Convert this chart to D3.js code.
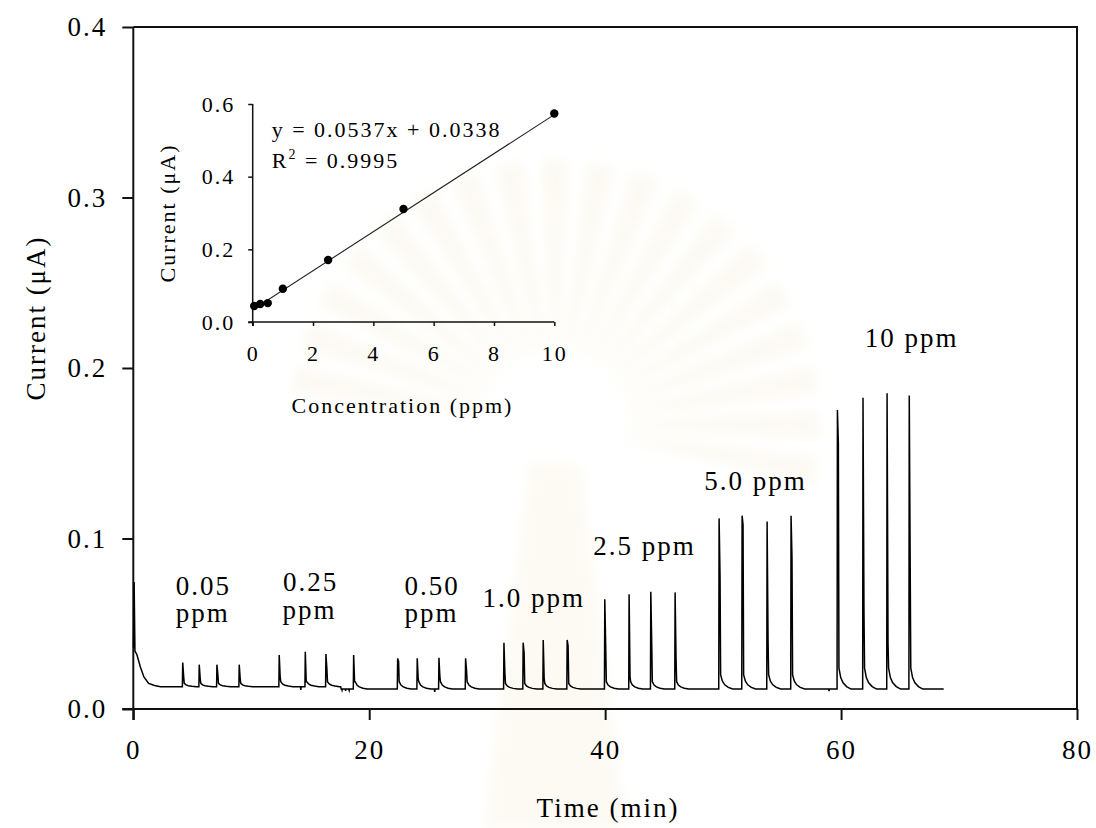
<!DOCTYPE html>
<html>
<head>
<meta charset="utf-8">
<script src="https://cdn.jsdelivr.net/npm/d3@7"></script>
<style>
  html, body { margin: 0; padding: 0; background: #fff; }
  svg { display: block; }
  text { font-family: "Liberation Serif", "Times New Roman", serif; fill: #000; }
</style>
</head>
<body>
<svg id="chart" width="1096" height="828"></svg>
<script>
// ---- Main trace: flow-injection amperometric response ----
const timeTicks = [0, 20, 40, 60, 80];
const currentTicks = [0, 0.1, 0.2, 0.3, 0.4];

// initial injection transient (min, µA)
const startTimes  = [0.02, 0.07, 0.14, 0.30, 0.60, 0.90, 1.30, 1.80, 2.30];
const startValues = [0.036, 0.0745, 0.034, 0.032, 0.0246, 0.0188, 0.0150, 0.0138, 0.0131];

// baseline level before / after the small drift step
const baselineStepTime = 17.6;
const baselineLevels = [0.0131, 0.0117];
const traceEnd = 68.7;

// injections: time of apex, apex current, shoulder on the falling edge, start of tail
const peakTimes = [
  4.19, 5.59, 7.09, 8.98,
  12.37, 14.58, 16.33, 18.68,
  22.41, 24.07, 25.91, 28.17,
  31.42, 33.05, 34.75, 36.78,
  39.97, 42.03, 43.87, 45.93,
  49.66, 51.61, 53.73, 55.76,
  59.69, 61.86, 63.90, 65.78
];
const peakApex = [
  0.0272, 0.0260, 0.0260, 0.0260,
  0.0317, 0.0336, 0.0323, 0.0317,
  0.0297, 0.0297, 0.0300, 0.0297,
  0.0389, 0.0389, 0.0405, 0.0405,
  0.0643, 0.0673, 0.0688, 0.0684,
  0.1118, 0.1134, 0.1099, 0.1134,
  0.1754, 0.1826, 0.1852, 0.1838
];
const peakShoulder = [
  0.0190, 0.0180, 0.0200, 0.0180,
  0.0190, 0.0160, 0.0237, 0.0160,
  0.0280, 0.0180, 0.0190, 0.0227,
  0.0213, 0.0330, 0.0180, 0.0370,
  0.0356, 0.0190, 0.0380, 0.0297,
  0.0776, 0.1080, 0.0405, 0.0884,
  0.1558, 0.0580, 0.0385, 0.0835
];
const peakTail = [
  0.0150, 0.0150, 0.0150, 0.0150,
  0.0160, 0.0160, 0.0160, 0.0160,
  0.0160, 0.0160, 0.0160, 0.0160,
  0.0150, 0.0150, 0.0150, 0.0150,
  0.0160, 0.0160, 0.0160, 0.0160,
  0.0200, 0.0200, 0.0200, 0.0200,
  0.0240, 0.0240, 0.0240, 0.0240
];

// short negative glitches on the baseline
const dipTimes  = [14.20, 17.70, 18.00, 18.30, 25.55, 58.98];
const dipValues = [0.0112, 0.0110, 0.0106, 0.0109, 0.0100, 0.0105];

// concentration labels above each group (one entry per text line)
const labelText  = ["0.05", "ppm", "0.25", "ppm", "0.50", "ppm", "1.0 ppm", "2.5 ppm", "5.0 ppm", "10 ppm"];
const labelTime  = [3.6, 3.6, 12.7, 12.65, 23.0, 23.0, 29.6, 39.0, 48.4, 62.0];
const labelValue = [0.0669, 0.0510, 0.0690, 0.0525, 0.0669, 0.0510, 0.0599, 0.0903, 0.1284, 0.2121];

// ---- Inset: calibration ----
const calConc    = [0.05, 0.25, 0.50, 1.0, 2.5, 5.0, 10.0];
const calCurrent = [0.044, 0.0495, 0.052, 0.0917, 0.1707, 0.311, 0.574];
const fitSlope = 0.0537, fitIntercept = 0.0338, fitR2 = 0.9995;
const concTicks = [0, 2, 4, 6, 8, 10];
const calTicks = [0, 0.2, 0.4, 0.6];

const svg = d3.select("#chart");

// ---- faint emblem in the background ----
const bg = svg.append("g").attr("class", "emblem");
const defs = svg.append("defs");
defs.append("filter").attr("id", "soft").append("feGaussianBlur").attr("stdDeviation", 6);
const cx = 555, cy = 425;
const rayAngles = d3.range(-170, 11, 10);
bg.selectAll("path.ray").data(rayAngles).join("path")
  .attr("class", "ray")
  .attr("d", a => {
    const r0 = 75, r1 = 265, w = 3.0;
    const p = (r, da) => {
      const t = (a + da) * Math.PI / 180;
      return [cx + r * Math.cos(t), cy + r * Math.sin(t)];
    };
    const pts = [p(r0, -w * 0.6), p(r1, -w), p(r1, w), p(r0, w * 0.6)];
    return "M" + pts.map(q => q.join(",")).join("L") + "Z";
  })
  .attr("fill", "#f0e8c6")
  .attr("opacity", 0.22)
  .attr("filter", "url(#soft)");
bg.append("path")
  .attr("d", `M${cx - 25},${cy + 40} L${cx + 25},${cy + 40} L${cx + 70},828 L${cx - 70},828 Z`)
  .attr("fill", "#efe4bd").attr("opacity", 0.18).attr("filter", "url(#soft)");

// ---- main scales ----
const x = d3.scaleLinear().domain([0, 80]).range([133.3, 1077]);
const y = d3.scaleLinear().domain([0, 0.4]).range([709, 27]);

const main = svg.append("g");

// frame: top and right borders
main.append("path")
  .attr("d", `M${x(0)},${y(0.4)}H${x(80)}V${y(0)}`)
  .attr("fill", "none").attr("stroke", "#111").attr("stroke-width", 2);

// axes
const yAxis = d3.axisLeft(y).tickValues(currentTicks).tickFormat(d3.format(".1f"))
  .tickSize(11).tickSizeOuter(0).tickPadding(15);
const xAxis = d3.axisBottom(x).tickValues(timeTicks).tickFormat(d3.format("d"))
  .tickSize(11).tickSizeOuter(0).tickPadding(20);

const gy = main.append("g").attr("transform", `translate(${x(0)},0)`).call(yAxis);
const gx = main.append("g").attr("transform", `translate(0,${y(0)})`).call(xAxis);
[gy, gx].forEach(g => {
  g.select(".domain").remove();
  g.selectAll(".tick line").attr("stroke", "#111").attr("stroke-width", 2);
  g.selectAll(".tick text").attr("font-size", 27).attr("letter-spacing", 2).attr("fill", "#111");
});
main.append("line").attr("x1", x(0)).attr("x2", x(0)).attr("y1", y(0.4)).attr("y2", y(0) + 11)
  .attr("stroke", "#111").attr("stroke-width", 2);
main.append("line").attr("x1", x(0) - 11).attr("x2", x(80)).attr("y1", y(0)).attr("y2", y(0))
  .attr("stroke", "#111").attr("stroke-width", 2);

// axis titles
main.append("text").attr("x", 608).attr("y", 817).attr("text-anchor", "middle")
  .attr("font-size", 27).attr("letter-spacing", 2).text("Time (min)");
main.append("text").attr("transform", "translate(45,318) rotate(-90)").attr("text-anchor", "middle")
  .attr("font-size", 27).attr("letter-spacing", 2).text("Current (\u03bcA)");

// ---- build the trace from the injection data ----
const baseAt = t => (t < baselineStepTime ? baselineLevels[0] : baselineLevels[1]);
const tailOffsets = [0.13, 0.28, 0.48, 0.78, 1.15];
const tailShare   = [1.00, 0.55, 0.30, 0.12, 0.00];

let pts = startTimes.map((t, i) => [t, startValues[i]]);
pts.push([baselineStepTime - 0.02, baselineLevels[0]], [baselineStepTime + 0.02, baselineLevels[1]]);
peakTimes.forEach((t0, i) => {
  const b = baseAt(t0);
  pts.push([t0 - 0.03, b], [t0, peakApex[i]], [t0 + 0.08, peakShoulder[i]]);
  tailOffsets.forEach((o, k) => pts.push([t0 + o, b + (peakTail[i] - b) * tailShare[k]]));
});
dipTimes.forEach((t, i) => {
  const b = baseAt(t);
  pts.push([t - 0.03, b], [t, dipValues[i]], [t + 0.03, b]);
});
pts.push([traceEnd, baselineLevels[1]]);
pts.sort((a, b) => a[0] - b[0]);

const line = d3.line().x(d => x(d[0])).y(d => y(d[1]));
main.append("path").datum(pts)
  .attr("d", line)
  .attr("fill", "none").attr("stroke", "#000").attr("stroke-width", 1.5)
  .attr("stroke-linejoin", "miter");

// concentration labels
main.selectAll("text.conc").data(labelText).join("text")
  .attr("class", "conc")
  .attr("font-size", 27).attr("letter-spacing", 2)
  .attr("x", (d, i) => x(labelTime[i]))
  .attr("y", (d, i) => y(labelValue[i]))
  .text(d => d);

// ---- inset calibration plot ----
const ix = d3.scaleLinear().domain([0, 10]).range([252.7, 554.3]);
const iy = d3.scaleLinear().domain([0, 0.6]).range([322, 104]);
const inset = svg.append("g");

const iyAxis = d3.axisLeft(iy).tickValues(calTicks).tickFormat(d3.format(".1f"))
  .tickSize(4.5).tickSizeOuter(0).tickPadding(13);
const ixAxis = d3.axisBottom(ix).tickValues(concTicks).tickFormat(d3.format("d"))
  .tickSize(4).tickSizeOuter(0).tickPadding(19);
const giy = inset.append("g").attr("transform", `translate(${ix(0)},0)`).call(iyAxis);
const gix = inset.append("g").attr("transform", `translate(0,${iy(0)})`).call(ixAxis);
[giy, gix].forEach(g => {
  g.select(".domain").remove();
  g.selectAll(".tick line").attr("stroke", "#111").attr("stroke-width", 1.5);
  g.selectAll(".tick text").attr("font-size", 22).attr("letter-spacing", 2).attr("fill", "#111");
});
inset.append("line").attr("x1", ix(0)).attr("x2", ix(0)).attr("y1", iy(0.6)).attr("y2", iy(0) + 4)
  .attr("stroke", "#111").attr("stroke-width", 1.5);
inset.append("line").attr("x1", ix(0) - 4.5).attr("x2", ix(10)).attr("y1", iy(0)).attr("y2", iy(0))
  .attr("stroke", "#111").attr("stroke-width", 1.5);

// least-squares line
const fitX = [calConc[0], calConc[calConc.length - 1]];
inset.append("line")
  .attr("x1", ix(fitX[0])).attr("y1", iy(fitSlope * fitX[0] + fitIntercept))
  .attr("x2", ix(fitX[1])).attr("y2", iy(fitSlope * fitX[1] + fitIntercept))
  .attr("stroke", "#222").attr("stroke-width", 1.1);

inset.selectAll("circle.cal").data(calConc).join("circle")
  .attr("class", "cal")
  .attr("cx", d => ix(d)).attr("cy", (d, i) => iy(calCurrent[i]))
  .attr("r", 4.2).attr("fill", "#000");

inset.append("text").attr("x", 271.7).attr("y", 136.7).attr("font-size", 22).attr("letter-spacing", 2)
  .text(`y = ${fitSlope}x + ${fitIntercept}`);
const r2 = inset.append("text").attr("x", 271.7).attr("y", 168.3).attr("font-size", 22).attr("letter-spacing", 2);
r2.append("tspan").text("R");
r2.append("tspan").attr("font-size", 14).attr("dy", -9).text("2");
r2.append("tspan").attr("dy", 9).text(` = ${fitR2}`);

inset.append("text").attr("x", 402.5).attr("y", 413).attr("text-anchor", "middle")
  .attr("font-size", 22).attr("letter-spacing", 2).text("Concentration (ppm)");
inset.append("text").attr("transform", "translate(175,213) rotate(-90)").attr("text-anchor", "middle")
  .attr("font-size", 22).attr("letter-spacing", 2).text("Current (\u03bcA)");
</script>
</body>
</html>
